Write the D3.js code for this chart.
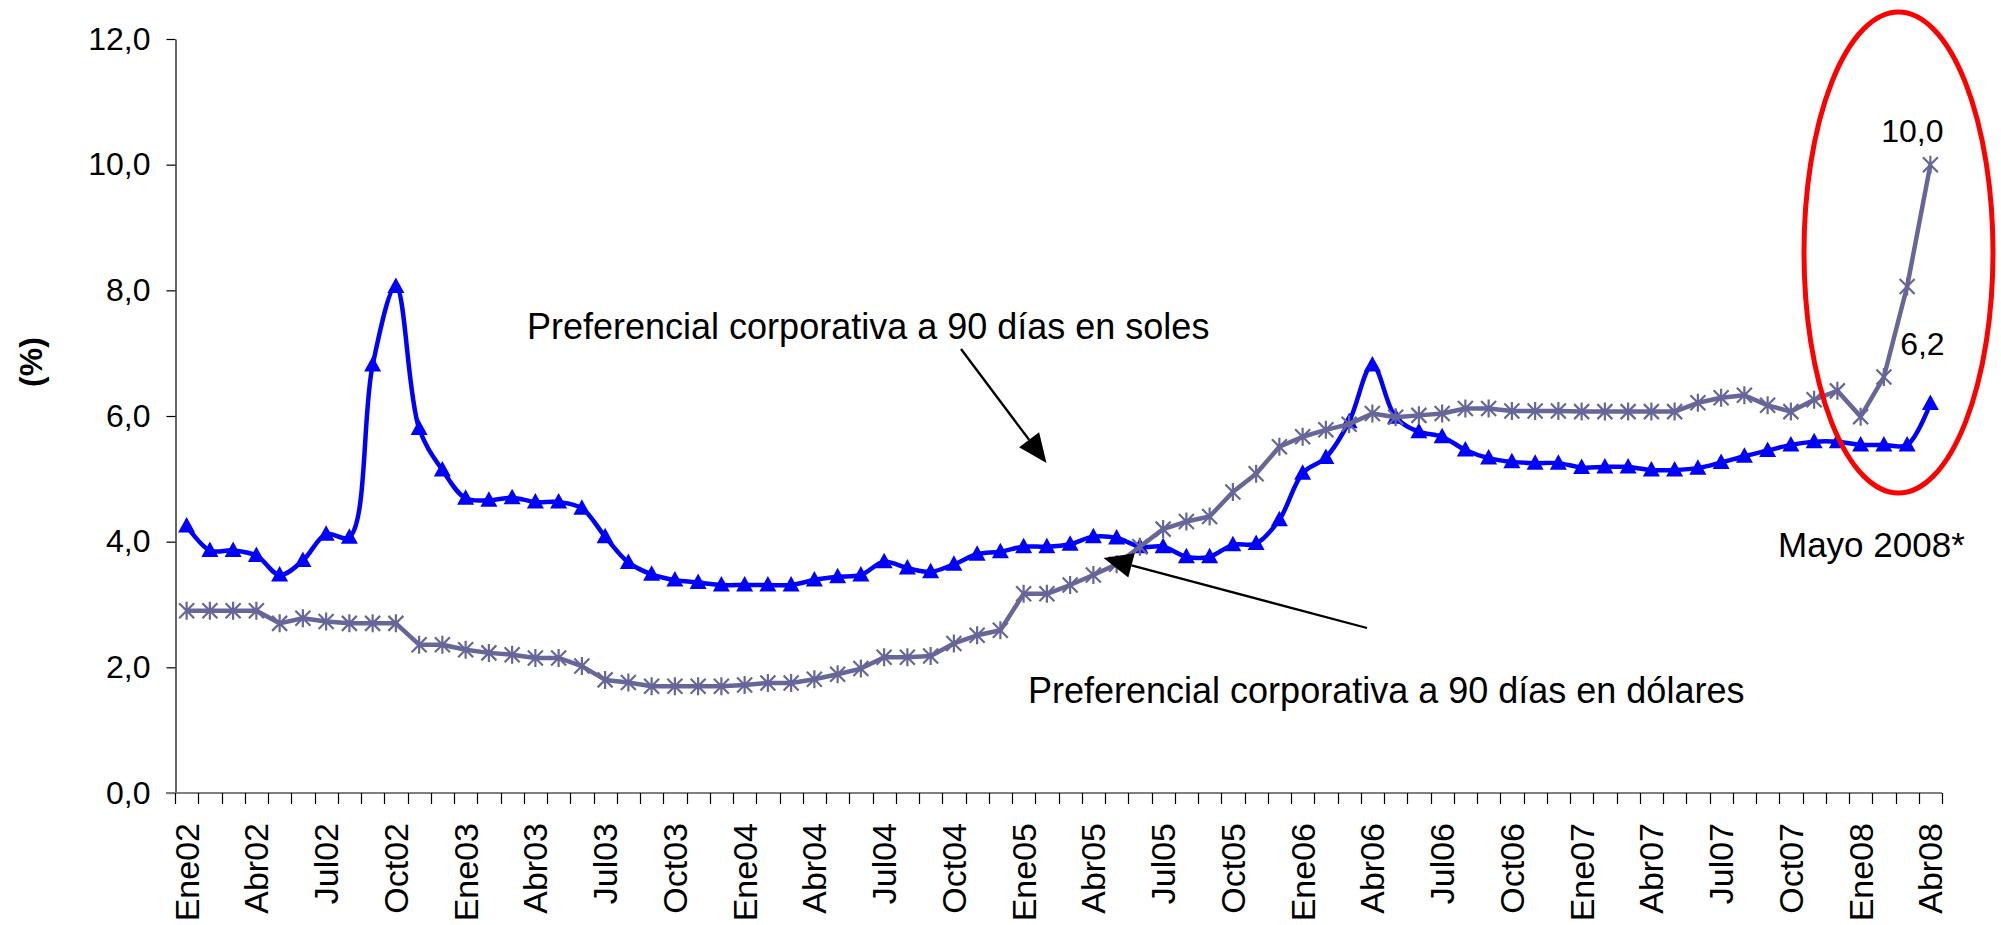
<!DOCTYPE html>
<html>
<head>
<meta charset="utf-8">
<script src="https://cdn.jsdelivr.net/npm/d3@7"></script>
<style>
  html, body { margin: 0; padding: 0; background: #ffffff; }
  svg { display: block; font-family: "Liberation Sans", Arial, sans-serif; }
</style>
</head>
<body>
<svg id="chart" width="2001" height="925"></svg>
<script>
// ---------------- DATA ----------------
const categories = [
  "Ene02","Feb02","Mar02","Abr02","May02","Jun02","Jul02","Ago02","Sep02","Oct02","Nov02","Dic02",
  "Ene03","Feb03","Mar03","Abr03","May03","Jun03","Jul03","Ago03","Sep03","Oct03","Nov03","Dic03",
  "Ene04","Feb04","Mar04","Abr04","May04","Jun04","Jul04","Ago04","Sep04","Oct04","Nov04","Dic04",
  "Ene05","Feb05","Mar05","Abr05","May05","Jun05","Jul05","Ago05","Sep05","Oct05","Nov05","Dic05",
  "Ene06","Feb06","Mar06","Abr06","May06","Jun06","Jul06","Ago06","Sep06","Oct06","Nov06","Dic06",
  "Ene07","Feb07","Mar07","Abr07","May07","Jun07","Jul07","Ago07","Sep07","Oct07","Nov07","Dic07",
  "Ene08","Feb08","Mar08","Abr08"
];

// Preferencial corporativa a 90 días en soles (%)
const soles = [
  4.25, 3.86, 3.86, 3.78, 3.47, 3.70, 4.12, 4.07, 6.81, 8.06,
  5.80, 5.14, 4.69, 4.66, 4.70, 4.63, 4.63, 4.53, 4.08, 3.67,
  3.48, 3.39, 3.35, 3.31, 3.31, 3.31, 3.31, 3.39, 3.44, 3.47,
  3.68, 3.58, 3.52, 3.64, 3.80, 3.84, 3.92, 3.92, 3.96, 4.08,
  4.06, 3.92, 3.92, 3.76, 3.76, 3.95, 3.97, 4.35, 5.09, 5.34,
  5.91, 6.81, 5.98, 5.75, 5.67, 5.46, 5.33, 5.27, 5.25, 5.25,
  5.18, 5.19, 5.19, 5.14, 5.14, 5.17, 5.26, 5.36, 5.45, 5.54,
  5.59, 5.59, 5.54, 5.54, 5.54, 6.2
];

// Preferencial corporativa a 90 días en dólares (%)
const dolares = [
  2.90, 2.90, 2.90, 2.90, 2.70, 2.78, 2.73, 2.70, 2.70, 2.70,
  2.36, 2.36, 2.28, 2.23, 2.20, 2.15, 2.15, 2.02, 1.80, 1.76,
  1.70, 1.70, 1.70, 1.70, 1.72, 1.75, 1.75, 1.81, 1.89, 1.98,
  2.16, 2.16, 2.18, 2.38, 2.51, 2.59, 3.17, 3.17, 3.31, 3.47,
  3.64, 3.92, 4.20, 4.32, 4.40, 4.79, 5.08, 5.51, 5.67, 5.78,
  5.87, 6.04, 5.98, 6.01, 6.04, 6.12, 6.12, 6.08, 6.08, 6.08,
  6.07, 6.07, 6.07, 6.07, 6.07, 6.21, 6.29, 6.33, 6.17, 6.07,
  6.26, 6.40, 5.99, 6.62, 8.06, 10.0
];

const yTicks = [0, 2, 4, 6, 8, 10, 12];
const xTickLabels = categories.filter((c, i) => i % 3 === 0);

const yTitle = "(%)";
const labelSoles = "Preferencial corporativa a 90 días en soles";
const labelDolares = "Preferencial corporativa a 90 días en dólares";
const labelMayo = "Mayo 2008*";

// ---------------- CHART ----------------
const svg = d3.select("#chart");
const fmt = v => d3.format(".1f")(v).replace(".", ",");

const x = d3.scaleBand().domain(categories).range([175, 1942]).padding(0);
const y = d3.scaleLinear().domain([0, 12]).range([793, 39]);
const bw = x.bandwidth();
const cx = c => x(c) + bw / 2;

const colSoles = "#0000ff";
const colDol = "#666699";

// Y axis
const yAxis = d3.axisLeft(y)
  .tickValues(yTicks)
  .tickFormat(fmt)
  .tickSize(9)
  .tickSizeOuter(0)
  .tickPadding(16);
const gy = svg.append("g").attr("transform", "translate(175.5,0)").call(yAxis);
gy.select(".domain").attr("stroke", "#000").attr("stroke-width", 1.2);
gy.selectAll(".tick line").attr("stroke", "#000").attr("stroke-width", 1.2);
gy.selectAll(".tick text")
  .attr("font-size", 32)
  .attr("fill", "#000")
  .attr("font-family", "'Liberation Sans', Arial, sans-serif");

// Y title
svg.append("text")
  .attr("transform", "translate(31,362) rotate(-90)")
  .attr("text-anchor", "middle")
  .attr("dominant-baseline", "central")
  .attr("font-size", 32)
  .attr("font-weight", "bold")
  .text(yTitle);

// X axis line
svg.append("line")
  .attr("x1", 166).attr("x2", x.range()[1])
  .attr("y1", y(0)).attr("y2", y(0))
  .attr("stroke", "#808080").attr("stroke-width", 2.2);

// X ticks at band boundaries
const boundaries = categories.map(c => x(c)).concat([x.range()[1]]);
svg.append("g").selectAll("line").data(boundaries).join("line")
  .attr("x1", d => Math.round(d) + 0.5).attr("x2", d => Math.round(d) + 0.5)
  .attr("y1", y(0)).attr("y2", y(0) + 11)
  .attr("stroke", "#000").attr("stroke-width", 1.2);

// X labels
svg.append("g").selectAll("text").data(xTickLabels).join("text")
  .attr("transform", d => `translate(${cx(d)},823) rotate(-90)`)
  .attr("text-anchor", "end")
  .attr("dominant-baseline", "central")
  .attr("font-size", 34)
  .attr("fill", "#000")
  .text(d => d);

// Soles line (smoothed)
const lineSoles = d3.line()
  .x((d, i) => cx(categories[i]))
  .y(d => y(d))
  .curve(d3.curveCatmullRom.alpha(0.5));
svg.append("path")
  .attr("d", lineSoles(soles))
  .attr("fill", "none")
  .attr("stroke", colSoles)
  .attr("stroke-width", 4.5)
  .attr("stroke-linejoin", "round");

svg.append("g").selectAll("path").data(soles).join("path")
  .attr("transform", (d, i) => `translate(${cx(categories[i])},${y(d)})`)
  .attr("d", "M0,-9 L8.5,6.5 L-8.5,6.5 Z")
  .attr("fill", colSoles);

// Dollars line
const lineDol = d3.line()
  .x((d, i) => cx(categories[i]))
  .y(d => y(d));
svg.append("path")
  .attr("d", lineDol(dolares))
  .attr("fill", "none")
  .attr("stroke", colDol)
  .attr("stroke-width", 4.5)
  .attr("stroke-linejoin", "round");

svg.append("g").selectAll("path").data(dolares).join("path")
  .attr("transform", (d, i) => `translate(${cx(categories[i])},${y(d)})`)
  .attr("d", "M-7.5,-7.5 L7.5,7.5 M-7.5,7.5 L7.5,-7.5 M0,-9 L0,9")
  .attr("fill", "none")
  .attr("stroke", colDol)
  .attr("stroke-width", 2.2);

// Arrows
function arrow(x1, y1, x2, y2) {
  const ang = Math.atan2(y2 - y1, x2 - x1);
  const L = 29, W = 12.5;
  const bx = x2 - L * Math.cos(ang), by = y2 - L * Math.sin(ang);
  svg.append("line")
    .attr("x1", x1).attr("y1", y1).attr("x2", bx).attr("y2", by)
    .attr("stroke", "#000").attr("stroke-width", 2.3);
  const px = -Math.sin(ang) * W, py = Math.cos(ang) * W;
  svg.append("path")
    .attr("d", `M${x2},${y2} L${bx + px},${by + py} L${bx - px},${by - py} Z`)
    .attr("fill", "#000");
}
arrow(961, 349, 1046.5, 463);
arrow(1367, 628, 1103.5, 558);

// Annotations
svg.append("text").attr("x", 527).attr("y", 339)
  .attr("font-size", 36).attr("fill", "#000").text(labelSoles);
svg.append("text").attr("x", 1028).attr("y", 703)
  .attr("font-size", 36).attr("fill", "#000").text(labelDolares);
svg.append("text").attr("x", 1778).attr("y", 557)
  .attr("font-size", 35).attr("fill", "#000").text(labelMayo);

// Data labels for the last points
const last = categories.length - 1;
svg.append("text")
  .attr("x", cx(categories[last]) - 18).attr("y", y(dolares[last]) - 23)
  .attr("text-anchor", "middle")
  .attr("font-size", 32).attr("fill", "#000")
  .text(fmt(dolares[last]));
svg.append("text")
  .attr("x", cx(categories[last]) - 8).attr("y", y(soles[last]) - 48)
  .attr("text-anchor", "middle")
  .attr("font-size", 32).attr("fill", "#000")
  .text(fmt(soles[last]));

// Red ellipse highlight
svg.append("ellipse")
  .attr("cx", 1898.5).attr("cy", 252.5)
  .attr("rx", 94.5).attr("ry", 240.5)
  .attr("fill", "none")
  .attr("stroke", "#ff0000")
  .attr("stroke-width", 5);
</script>
</body>
</html>
